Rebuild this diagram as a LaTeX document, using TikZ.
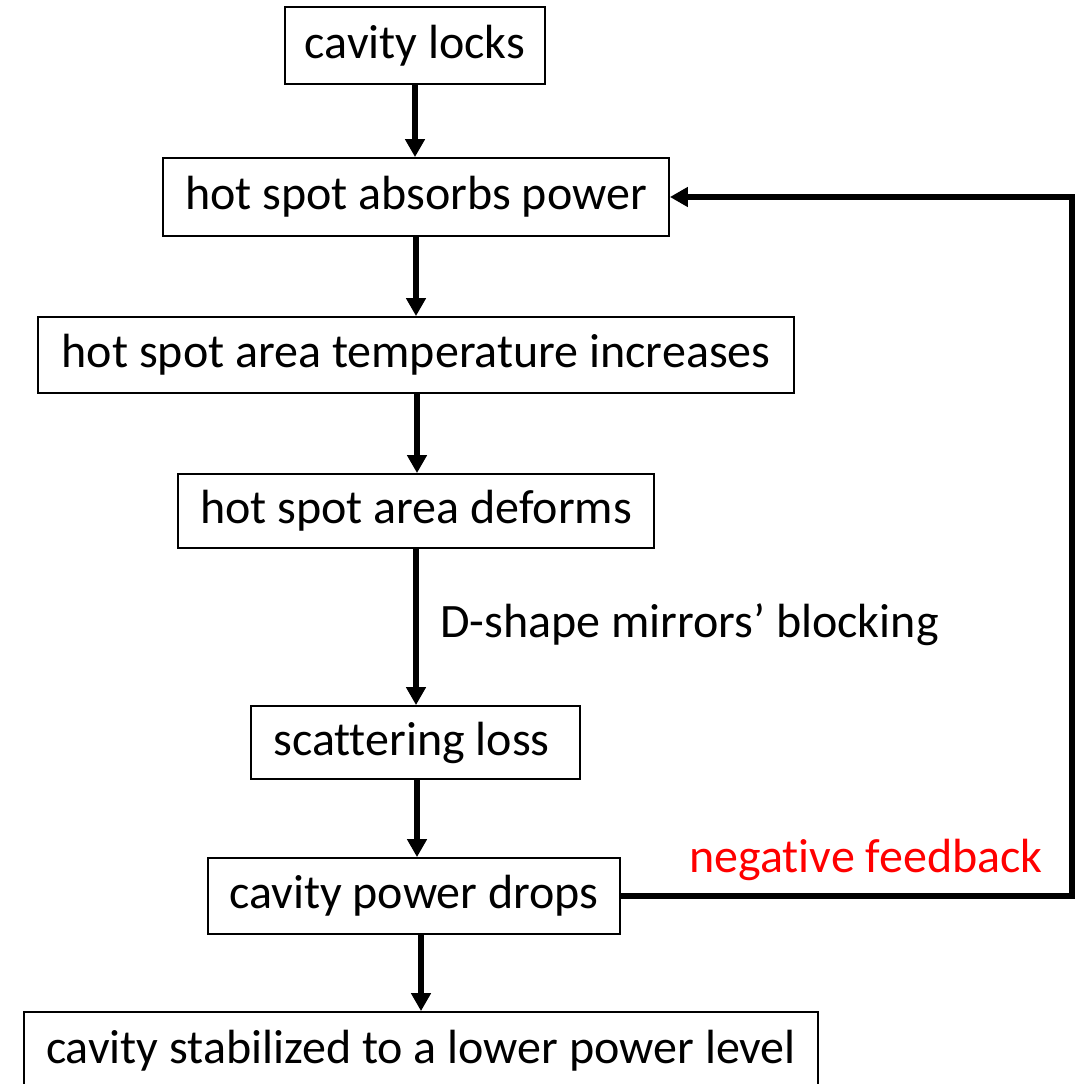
\documentclass[tikz,border=0pt]{standalone}
\usepackage{fontspec}
\setmainfont{Carlito}[Ligatures=NoCommon]
\usetikzlibrary{arrows.meta}
\begin{document}
\begin{tikzpicture}[x=1pt,y=-1pt,
  box/.style={draw=black,line width=1.8pt,fill=white,inner sep=0pt,font=\fontsize{48}{56}\selectfont,anchor=center},
  flow/.style={line width=5.5pt,-{Triangle[length=18pt,width=19pt]}},
  lbl/.style={font=\fontsize{48}{56}\selectfont,inner sep=0pt}]
\clip (0,0) rectangle (1082,1084);
\fill[white] (0,0) rectangle (1082,1084);
\node[box,minimum width=260pt,minimum height=77pt] (n1) at (415,45.5) {cavity locks};
\node[box,minimum width=506pt,minimum height=78pt] (n2) at (416,197) {hot spot absorbs power};
\node[box,minimum width=756pt,minimum height=76pt] (n3) at (416,355) {hot spot area temperature increases};
\node[box,minimum width=476pt,minimum height=74pt] (n4) at (416,511) {hot spot area deforms};
\node[box,minimum width=329pt,minimum height=73pt] (n5) at (415.5,742.5) {scattering loss\,};
\node[box,minimum width=412pt,minimum height=76pt] (n6) at (414,896) {cavity power drops};
\node[box,minimum width=794pt,minimum height=78pt] (n7) at (421,1051) {cavity stabilized to a lower power level};
\coordinate (c1) at (1072,896);
\coordinate (c2) at (1072,197);
\draw[flow] (n1.south -| 415,0) -- (n2.north -| 415,0);
\draw[flow] (n2.south -| 416,0) -- (n3.north -| 416,0);
\draw[flow] (n3.south -| 417,0) -- (n4.north -| 417,0);
\draw[flow] (n4.south -| 416,0) -- (n5.north -| 416,0);
\node[lbl,anchor=west] (l1) at (440,625) {D-shape mirrors’ blocking};
\draw[flow] (n5.south -| 417,0) -- (n6.north -| 417,0);
\draw[flow] (n6.south -| 421,0) -- (n7.north -| 421,0);
\draw[flow,line join=miter] (n6.east) -- (c1) -- (c2) -- (n2.east);
\node[lbl,text=red,anchor=center] (l2) at (866,860) {negative feedback};
\end{tikzpicture}
\end{document}
